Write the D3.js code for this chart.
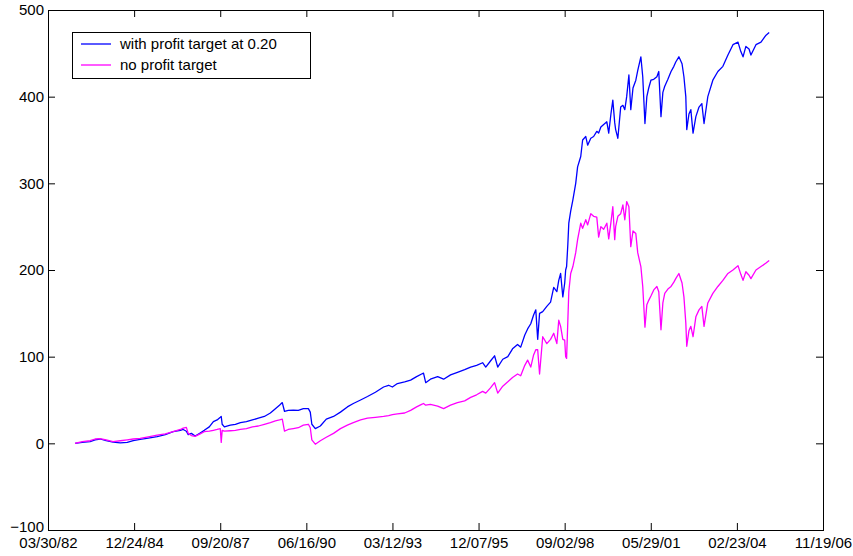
<!DOCTYPE html>
<html>
<head>
<meta charset="utf-8">
<script src="https://cdn.jsdelivr.net/npm/d3@7"></script>
<style>
  html, body { margin: 0; padding: 0; background: #fff; }
  svg { display: block; }
  text { font-family: "Liberation Sans", Arial, Helvetica, sans-serif; }
</style>
</head>
<body>
<svg id="chart" width="853" height="556"></svg>
<script>
// ---- data (dates as decimal years) ----
const dates = [
  1983.10, 1983.33, 1983.58, 1983.74, 1983.90, 1984.09, 1984.31, 1984.54, 1984.76, 1984.95,
  1985.17, 1985.43, 1985.71, 1985.97, 1986.22, 1986.45, 1986.54, 1986.64, 1986.70, 1986.80,
  1986.92, 1987.08, 1987.21, 1987.37, 1987.50, 1987.62, 1987.72, 1987.75, 1987.78, 1987.85,
  1988.04, 1988.20, 1988.36, 1988.55, 1988.74, 1988.93, 1989.12, 1989.31, 1989.47, 1989.60,
  1989.69, 1989.76, 1989.88, 1990.04, 1990.20, 1990.36, 1990.52, 1990.58, 1990.63, 1990.74,
  1990.90, 1991.09, 1991.32, 1991.54, 1991.76, 1991.95, 1992.18, 1992.40, 1992.65, 1992.91,
  1993.07, 1993.19, 1993.35, 1993.58, 1993.77, 1993.96, 1994.12, 1994.18, 1994.25, 1994.40,
  1994.63, 1994.82, 1995.04, 1995.26, 1995.49, 1995.68, 1995.87, 1996.06, 1996.16, 1996.31,
  1996.44, 1996.54, 1996.70, 1996.86, 1997.01, 1997.17, 1997.27, 1997.40, 1997.49, 1997.59,
  1997.68, 1997.75, 1997.81, 1997.87, 1997.97, 1998.10, 1998.22, 1998.32, 1998.42, 1998.48,
  1998.54, 1998.61, 1998.67, 1998.70, 1998.73, 1998.77, 1998.80, 1998.86, 1998.93, 1999.02,
  1999.08, 1999.18, 1999.24, 1999.34, 1999.40, 1999.50, 1999.59, 1999.69, 1999.75, 1999.82,
  1999.91, 2000.01, 2000.07, 2000.14, 2000.20, 2000.26, 2000.29, 2000.36, 2000.45, 2000.52,
  2000.58, 2000.64, 2000.71, 2000.77, 2000.84, 2000.93, 2000.99, 2001.09, 2001.15, 2001.22,
  2001.28, 2001.34, 2001.41, 2001.50, 2001.60, 2001.66, 2001.73, 2001.79, 2001.85, 2001.95,
  2002.05, 2002.14, 2002.20, 2002.30, 2002.40, 2002.46, 2002.52, 2002.55, 2002.62, 2002.68,
  2002.75, 2002.84, 2002.94, 2003.03, 2003.10, 2003.22, 2003.38, 2003.54, 2003.70, 2003.86,
  2004.02, 2004.18, 2004.27, 2004.34, 2004.43, 2004.53, 2004.59, 2004.75, 2004.91, 2005.07,
  2005.17
];
const withProfitTarget = [
  0, 1, 2, 4, 5, 3, 1.5, 0.5, 1, 3,
  4.6, 6, 7.7, 10, 13.4, 15, 16, 14, 10, 11.5,
  8.4, 12, 15, 19, 25, 27, 30, 31, 22, 19,
  21, 22, 24, 25, 27, 29, 31, 35, 40, 44,
  47, 37, 38, 38.4, 38, 40, 40, 36, 22, 17,
  20, 28, 31, 36, 42, 46, 50, 54, 59, 65,
  67, 65, 69, 71, 73, 77, 80, 81, 70, 74,
  77, 74, 79, 82, 85, 88, 90, 93, 88, 95,
  101, 88, 97, 100, 109, 114, 111, 125, 132, 138,
  148, 154, 120, 150, 152, 158, 163, 180, 175, 188,
  196, 169, 185, 200, 204, 230, 254, 268, 281, 300,
  319, 331, 350, 354, 344, 352, 354, 360, 358, 365,
  368, 371, 358, 380, 396, 370, 362, 352, 388, 390,
  385, 400, 425, 385, 410, 419, 430, 446, 423, 369,
  400, 410, 419, 420, 423, 429, 377, 405, 412, 420,
  429, 435, 440, 446, 438, 423, 400, 362, 380, 385,
  358, 377, 388, 392, 369, 400, 419, 429, 435, 448,
  460, 463, 452, 446, 458, 455, 448, 460, 463, 471,
  474
];
const noProfitTarget = [
  0, 2, 3, 5, 5.5, 4, 2, 3, 4, 5,
  5.7, 7.5, 9.5, 11, 13.5, 16, 17.5, 18.4, 11.5, 9,
  8, 11, 13.4, 14, 15, 16, 17, 1, 15, 14,
  14.5, 15, 16, 17, 19, 20, 22, 24, 26, 27,
  28, 14, 16, 17, 18, 21, 22, 18, 4, -1,
  3, 7, 11.5, 17, 21, 24, 27, 29, 30, 31,
  32, 33, 34, 35, 38, 42, 45, 46, 44, 45,
  43, 40, 44, 47, 49, 53, 56, 60, 58, 64,
  70, 58, 66, 71, 76, 80, 78, 90, 96, 88,
  102, 108, 108, 80, 123, 115, 120, 127, 115, 142,
  135, 120, 119, 100, 98, 142, 175, 196, 204, 220,
  235, 254, 248, 258, 252, 265, 262, 261, 238, 250,
  247, 254, 236, 255, 273, 235, 250, 262, 265, 275,
  258, 279, 273, 227, 245, 242, 220, 204, 181, 134,
  160, 165, 170, 177, 181, 175, 131, 162, 173, 178,
  181, 186, 190, 196, 185, 169, 139, 112, 130, 135,
  123, 146, 154, 158, 135, 162, 173, 181, 188, 196,
  200, 205, 195, 188, 198, 194, 190, 200, 204, 208,
  211
];
const seriesNames = ["with profit target at 0.20", "no profit target"];
const seriesColors = ["#0000ff", "#ff00ff"];
const yTicks = [-100, 0, 100, 200, 300, 400, 500];
const xStart = "1982-03-30", xEnd = "2006-11-19", xTickStepDays = 1000;

// ---- helpers ----
function decYearToDate(y) {
  const yr = Math.floor(y);
  const s = Date.UTC(yr, 0, 1), e = Date.UTC(yr + 1, 0, 1);
  return new Date(s + (y - yr) * (e - s));
}
const parse = d3.utcParse("%Y-%m-%d");

// ---- layout ----
const W = 853, H = 556;
const m = { left: 48, right: 30, top: 10, bottom: 26 };
const x0 = m.left, x1 = W - m.right, y0 = m.top, y1 = H - m.bottom;

const svg = d3.select("#chart");
svg.append("rect").attr("width", W).attr("height", H).attr("fill", "#fff");

const x = d3.scaleUtc().domain([parse(xStart), parse(xEnd)]).range([x0, x1]);
const y = d3.scaleLinear().domain([-100, 500]).range([y1, y0]);

const nT = Math.round((parse(xEnd) - parse(xStart)) / 864e5 / xTickStepDays);
const xTickVals = d3.range(nT + 1).map(i => new Date(+parse(xStart) + i * xTickStepDays * 864e5));
const fmt = d3.utcFormat("%m/%d/%y");

const fontSize = 15;

// axes with inward ticks (MATLAB style box)
const gB = svg.append("g").attr("transform", `translate(0,${y1})`)
  .call(d3.axisBottom(x).tickValues(xTickVals).tickFormat(fmt).tickSizeInner(-7).tickSizeOuter(0).tickPadding(7));
const gT = svg.append("g").attr("transform", `translate(0,${y0})`)
  .call(d3.axisTop(x).tickValues(xTickVals).tickFormat("").tickSizeInner(-7).tickSizeOuter(0));
const gL = svg.append("g").attr("transform", `translate(${x0},0)`)
  .call(d3.axisLeft(y).tickValues(yTicks).tickFormat(d3.format("d")).tickSizeInner(-7).tickSizeOuter(0).tickPadding(4));
const gR = svg.append("g").attr("transform", `translate(${x1},0)`)
  .call(d3.axisRight(y).tickValues(yTicks).tickFormat("").tickSizeInner(-7).tickSizeOuter(0));

[gB, gT, gL, gR].forEach(g => {
  g.select(".domain").remove();
  g.selectAll("line").attr("stroke", "#000");
  g.selectAll("text").attr("fill", "#000").style("font-size", fontSize + "px")
    .style("font-family", '"Liberation Sans", Arial, sans-serif');
});
// nudge the bottom-most y label up a little so it clears the first date label
gL.selectAll(".tick").filter(d => d === -100).select("text").attr("dy", "0.1em");

// lines
const pts = [withProfitTarget, noProfitTarget].map(vals => dates.map((d, i) => [decYearToDate(d), vals[i]]));
const line = d3.line().x(d => x(d[0])).y(d => y(d[1]));
const plot = svg.append("g");
pts.forEach((p, i) => {
  plot.append("path").datum(p).attr("d", line).attr("fill", "none")
    .attr("stroke", seriesColors[i]).attr("stroke-width", 1.3).attr("stroke-linejoin", "round");
});

// box
svg.append("rect").attr("x", x0 + 0.5).attr("y", y0 + 0.5).attr("width", x1 - x0).attr("height", y1 - y0)
  .attr("fill", "none").attr("stroke", "#000").attr("stroke-width", 1);

// legend
const lg = svg.append("g");
lg.append("rect").attr("x", 72.5).attr("y", 32.5).attr("width", 238).attr("height", 46)
  .attr("fill", "#fff").attr("stroke", "#000");
seriesNames.forEach((name, i) => {
  const ly = 44 + i * 21;
  lg.append("line").attr("x1", 81).attr("x2", 111).attr("y1", ly).attr("y2", ly)
    .attr("stroke", seriesColors[i]).attr("stroke-width", 1.3);
  lg.append("text").attr("x", 120).attr("y", ly).attr("dy", "0.35em")
    .style("font-size", fontSize + "px").attr("fill", "#000").text(name);
});
</script>
</body>
</html>
